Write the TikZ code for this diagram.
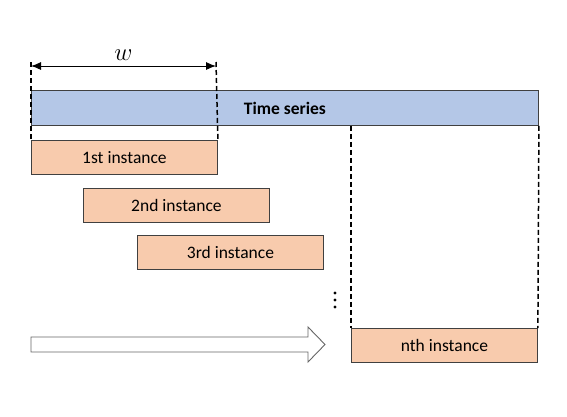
\documentclass[tikz,border=0pt]{standalone}
\usepackage{fontspec}
\setmainfont{Carlito}
\usetikzlibrary{arrows.meta}
\definecolor{seriesblue}{HTML}{B4C7E7}
\definecolor{instorange}{HTML}{F8CBAD}
\definecolor{edgegray}{HTML}{404040}
\tikzstyle{base} = [draw=edgegray, line width=0.9pt, anchor=north west, inner sep=0pt, text centered, font=\fontsize{17.5}{20}\selectfont]
\tikzstyle{series} = [base, fill=seriesblue, minimum width=507pt, minimum height=35pt, font=\fontsize{17.5}{20}\selectfont\bfseries]
\tikzstyle{instance} = [base, fill=instorange, minimum width=186pt, minimum height=34pt]
\tikzstyle{guide} = [draw, line width=1.5pt, dash pattern=on 5pt off 3pt]
\tikzstyle{dimension} = [draw, line width=0.9pt, {Latex[length=10pt, width=8pt]}-{Latex[length=10pt, width=8pt]}]
\tikzstyle{slide} = [draw=edgegray!80, line width=0.9pt, fill=white]

\begin{document}
\begin{tikzpicture}[x=1pt, y=-1pt]
	\useasboundingbox (0,0) rectangle (567,416);
	
	% series and windows
	\node [series] at (31, 90) (series) {Time series};
	\node [instance] at (31, 140) (first) {1st instance};
	\node [instance] at (83, 188) (second) {2nd instance};
	\node [instance] at (137, 235) (third) {3rd instance};
	\node [instance] at (351, 328) (nth) {nth instance};
	
	% window width
	\coordinate (wl) at (31, 62);
	\coordinate (wr) at (216, 62);
	\path [guide] (wl) -- (first.north west);
	\path [guide] (wr) -- (first.north east);
	\path [dimension] ([yshift=-4pt]wl) -- node[above=2pt, font=\fontsize{25}{28}\selectfont] (wlabel) {$w$} ([yshift=-4pt]wr);
	
	% last window
	\path [guide] (series.south -| nth.north west) -- (nth.north west);
	\path [guide] (series.south east) -- (nth.north east);
	
	% dots and sliding direction
	\foreach \y in {293, 300, 307}
		\fill (335, \y) circle (1.6pt);
	\path [slide] (31, 337) -- (308, 337) -- (308, 327) -- (325, 344.5) -- (308, 362) -- (308, 352) -- (31, 352) -- cycle;
	
\end{tikzpicture}
\end{document}
